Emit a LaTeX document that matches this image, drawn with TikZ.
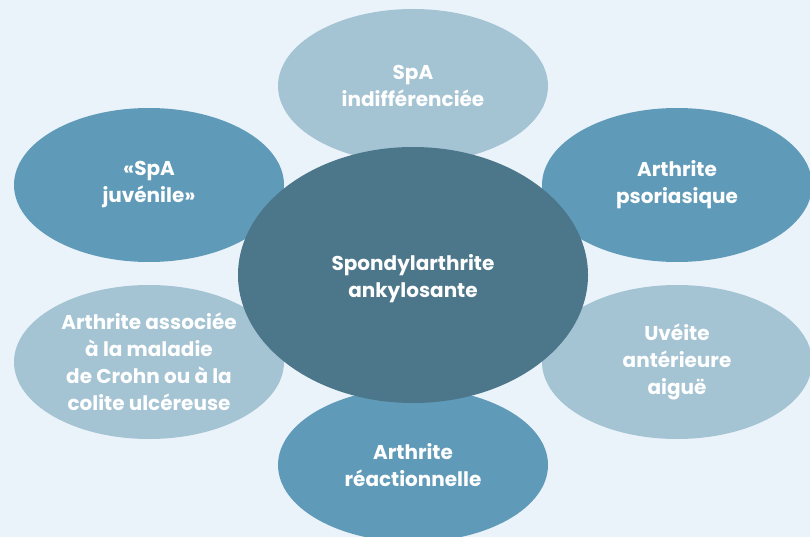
\documentclass[tikz,border=0pt]{standalone}
\usepackage{fontspec}
\setmainfont{Poppins}
\usepackage{tikz}
\usetikzlibrary{shapes.geometric,positioning}
\usepackage{xcolor}
\definecolor{bgblue}{HTML}{EBF3FA}
\definecolor{paleblue}{HTML}{A4C3D3}
\definecolor{midblue}{HTML}{5F9AB8}
\definecolor{darkblue}{HTML}{4C7689}

\begin{document}
\begin{tikzpicture}[x=1pt, y=-1pt,
  blob/.style={ellipse, inner sep=0pt, minimum width=270pt, minimum height=154pt,
    text=white, align=center, font=\bfseries\fontsize{20}{27}\selectfont},
  paleblob/.style={blob, fill=paleblue},
  midblob/.style={blob, fill=midblue}]
  % Background
  \fill[bgblue] (0,0) rectangle (810,537);
  \useasboundingbox (0,0) rectangle (810,537);
  \clip (0,0) rectangle (810,537);
  % Outer forms
  \node[paleblob] (indiff) at (413,86) {SpA\\indifférenciée};
  \node[midblob]  (juven)  at (149,185) {«SpA\\juvénile»};
  \node[midblob]  (psor)   at (677,185) {Arthrite\\psoriasique};
  \node[paleblob] (crohn)  at (149,362) {Arthrite associée\\à la maladie\\de Crohn ou à la\\colite ulcéreuse};
  \node[paleblob] (uveite) at (677,362) {Uvéite\\antérieure\\aiguë};
  \node[midblob]  (reac)   at (413,465) {Arthrite\\réactionnelle};
  % Centre
  \node[blob, fill=darkblue, minimum width=350pt, minimum height=256pt] (spa) at (413,275) {};
  \node[text=white, align=center, font=\bfseries\fontsize{20}{27}\selectfont] (spatext) at (413,279)
    {Spondylarthrite\\ankylosante};
\end{tikzpicture}
\end{document}
